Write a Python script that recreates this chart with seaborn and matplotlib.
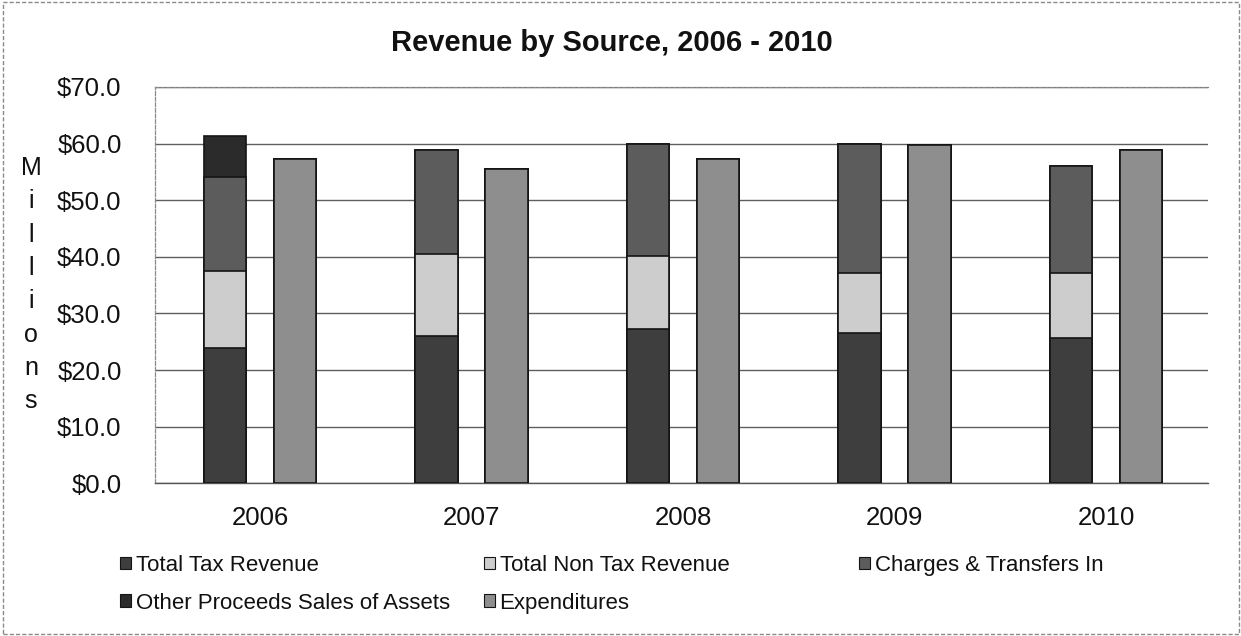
import numpy as np
import pandas as pd
import seaborn as sns
import matplotlib
matplotlib.use("Agg")
import matplotlib.pyplot as plt
from matplotlib.patches import Patch, Rectangle
from matplotlib.ticker import FuncFormatter

# ---- data (millions of dollars) ----
years = ["2006", "2007", "2008", "2009", "2010"]
total_tax = [23.9, 26.0, 27.2, 26.6, 25.7]
total_non_tax = [13.6, 14.5, 12.9, 10.6, 11.5]
charges_transfers = [16.6, 18.3, 19.9, 22.8, 18.9]
other_proceeds = [7.2, 0.0, 0.0, 0.0, 0.0]
expenditures = [57.3, 55.5, 57.3, 59.8, 58.8]

series_names = ["Total Tax Revenue", "Total Non Tax Revenue", "Charges & Transfers In",
                "Other Proceeds Sales of Assets", "Expenditures"]
colors = {"Total Tax Revenue": "#3e3e3e",
          "Total Non Tax Revenue": "#cdcdcd",
          "Charges & Transfers In": "#5c5c5c",
          "Other Proceeds Sales of Assets": "#2b2b2b",
          "Expenditures": "#8e8e8e"}

sns.set_theme(style="white")
plt.rcParams["font.family"] = ["Liberation Sans", "DejaVu Sans"]

fig = plt.figure(figsize=(12.41, 6.36), dpi=100)
W, H = 1241, 636
ax = fig.add_axes([155 / W, 1 - 483.3 / H, (1208 - 155) / W, (483.3 - 87) / H])

# stacked layers (drawn from the tallest cumulative total down)
rev_layers = [total_tax, total_non_tax, charges_transfers, other_proceeds]
rev_names = series_names[:4]
cum = np.cumsum(np.array(rev_layers), axis=0)

for i in range(3, -1, -1):
    df = pd.DataFrame({
        "year": years * 2,
        "value": list(cum[i]) + list(expenditures),
        "group": ["Revenue"] * 5 + ["Expenditures"] * 5,
    })
    sns.barplot(data=df, x="year", y="value", hue="group", order=years,
                hue_order=["Revenue", "Expenditures"],
                palette={"Revenue": colors[rev_names[i]],
                         "Expenditures": colors["Expenditures"]},
                width=0.662, gap=0.396, dodge=True, errorbar=None,
                edgecolor="#151515", linewidth=1.2, saturation=1,
                legend=False, ax=ax, zorder=3)

ax.set_xlim(-0.4965, 4.482)
ax.set_ylim(0, 70)
ax.set_yticks(np.arange(0, 71, 10))
ax.yaxis.set_major_formatter(FuncFormatter(lambda v, p: f"${v:.1f}"))
ax.set_xlabel("")
ax.set_ylabel("")
ax.tick_params(axis="both", length=0, labelsize=18.5, colors="#111111")
ax.tick_params(axis="y", pad=24)
ax.tick_params(axis="x", pad=16)
ax.grid(axis="y", color="#5e5e5e", linewidth=1.0, zorder=0)
ax.grid(axis="x", visible=False)
ax.set_axisbelow(True)
for s in ["left", "top"]:
    ax.spines[s].set_visible(True)
    ax.spines[s].set_color("#8a8a8a")
    ax.spines[s].set_linewidth(0.9)
    ax.spines[s].set_linestyle((0, (3, 1.5)))
ax.spines["bottom"].set_color("#555555")
ax.spines["bottom"].set_linewidth(1.0)
ax.spines["right"].set_visible(False)

# title
fig.text(612 / W, 1 - 43 / H, "Revenue by Source, 2006 - 2010", ha="center", va="center",
         fontsize=21, fontweight="bold", color="#111111")

# vertical "Millions" label, one letter per line
letters = list("Millions")
for k, ch in enumerate(letters):
    fig.text(31 / W, 1 - (175 + k * 33.3) / H, ch, ha="center", va="baseline",
             fontsize=18, color="#111111")

# legend in three columns (Excel-style layout)
def handle(name):
    return Patch(facecolor=colors[name], edgecolor="#151515", linewidth=0.8)

cols = [(120, ["Total Tax Revenue", "Other Proceeds Sales of Assets"]),
        (484, ["Total Non Tax Revenue", "Expenditures"]),
        (859, ["Charges & Transfers In"])]
for x0, names in cols:
    leg = fig.legend(handles=[handle(n) for n in names], labels=names,
                     loc="upper left", bbox_to_anchor=(x0 / W, 1 - 555 / H),
                     frameon=False, fontsize=16, handlelength=0.5, handleheight=0.5,
                     handletextpad=0.2, labelspacing=0.75, borderpad=0, borderaxespad=0)
    for t in leg.get_texts():
        t.set_color("#111111")

# outer chart border
fig.patches.append(Rectangle((3 / W, 2 / H), 1236 / W, 632 / H, transform=fig.transFigure,
                             fill=False, edgecolor="#8a8a8a", linewidth=1.0,
                             linestyle=(0, (3, 1.5))))

fig.savefig("out.png", dpi=100)
